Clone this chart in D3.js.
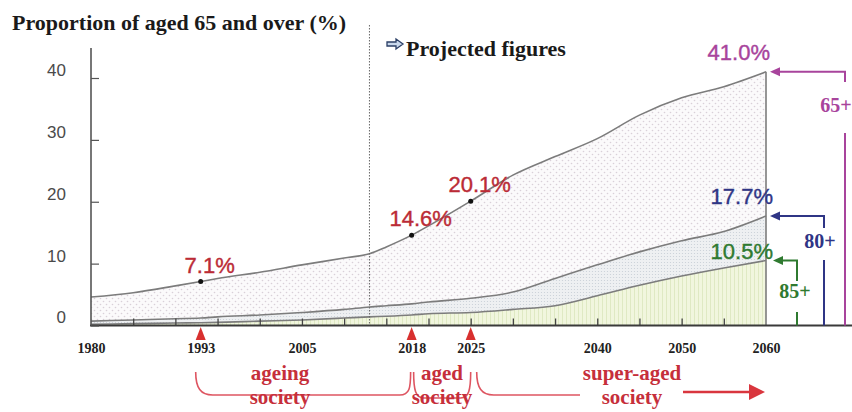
<!DOCTYPE html>
<html><head><meta charset="utf-8">
<script src="https://cdn.jsdelivr.net/npm/d3@7"></script>
<style>body{margin:0;background:#fff}svg{display:block}</style>
</head><body><svg id="chart" width="852" height="412"></svg>
<script>
// ---- data ----
const years  = [1980,1985,1990,1993,1995,2000,2005,2010,2013,2015,2018,2020,2025,2030,2035,2040,2045,2050,2055,2060];
const aged65 = [4.6,5.3,6.4,7.1,7.6,8.6,9.8,10.9,11.6,12.7,14.6,16.1,20.1,24.3,27.3,30.2,34.0,36.8,38.6,41.0];
const aged80 = [0.7,0.9,1.1,1.2,1.4,1.7,2.1,2.6,3.0,3.2,3.5,3.8,4.4,5.4,7.6,9.8,11.9,13.7,15.2,17.7];
const aged85 = [0.2,0.3,0.4,0.45,0.5,0.7,0.9,1.2,1.4,1.5,1.7,1.9,2.1,2.6,3.2,4.8,6.5,8.0,9.3,10.5];
const yTicks = [0,10,20,30,40];
const xLabels = [1980,1993,2005,2018,2025,2040,2050,2060];
const minorTicks = [1985,1990,1995,2000,2005,2010,2015,2020,2025,2030,2035,2040,2045,2050,2055];
const milestoneYears = [1993,2018,2025];
const milestoneValues = [7.1,14.6,20.1];
const projectionStart = 2013;
const groupNames = ["65+","80+","85+"];
const stageLines = [["ageing","society"],["aged","society"],["super-aged","society"]];
const titleText = "Proportion of aged 65 and over (%)";
const projectedText = "Projected figures";

// ---- chart ----
const svg = d3.select("#chart");
const x = d3.scaleLinear().domain([1980,2060]).range([91,766]);
const y = d3.scaleLinear().domain([0,40]).range([325.5,78]);
const serif = "'Liberation Serif','Times New Roman',serif";
const sans = "'Liberation Sans',Arial,sans-serif";

const defs = svg.append("defs");
const p65 = defs.append("pattern").attr("id","p65").attr("patternUnits","userSpaceOnUse").attr("width",6).attr("height",6);
p65.append("rect").attr("width",6).attr("height",6).attr("fill","#fbfafb");
p65.append("circle").attr("cx",1.5).attr("cy",1.5).attr("r",0.8).attr("fill","#d9d0d8");
p65.append("circle").attr("cx",4.5).attr("cy",4.5).attr("r",0.8).attr("fill","#d9d0d8");
const p80 = defs.append("pattern").attr("id","p80").attr("patternUnits","userSpaceOnUse").attr("width",3).attr("height",3);
p80.append("rect").attr("width",3).attr("height",3).attr("fill","#eef0f2");
p80.append("circle").attr("cx",1.5).attr("cy",1.5).attr("r",0.6).attr("fill","#c8cfd6");
const p85 = defs.append("pattern").attr("id","p85").attr("patternUnits","userSpaceOnUse").attr("width",4).attr("height",4);
p85.append("rect").attr("width",4).attr("height",4).attr("fill","#f1f6de");
p85.append("rect").attr("x",2).attr("width",1).attr("height",4).attr("fill","#dfe9c3");

const idx = d3.range(years.length);
const mkArea = arr => d3.area().x(i=>x(years[i])).y0(y(0)).y1(i=>y(arr[i])).curve(d3.curveMonotoneX);
const mkLine = arr => d3.line().x(i=>x(years[i])).y(i=>y(arr[i])).curve(d3.curveMonotoneX);
[[aged65,"url(#p65)"],[aged80,"url(#p80)"],[aged85,"url(#p85)"]].forEach(([arr,f])=>{
  svg.append("path").datum(idx).attr("d",mkArea(arr)).attr("fill",f);
});
[aged65,aged80,aged85].forEach(arr=>{
  svg.append("path").datum(idx).attr("d",mkLine(arr)).attr("fill","none").attr("stroke","#7c7c7c").attr("stroke-width",1.6);
});
const last = years.length-1;
svg.append("line").attr("x1",x(years[last])).attr("x2",x(years[last]))
  .attr("y1",y(aged65[last])).attr("y2",y(0)).attr("stroke","#7c7c7c").attr("stroke-width",1.6);

// projection dotted line
svg.append("line").attr("x1",x(projectionStart)).attr("x2",x(projectionStart)).attr("y1",25).attr("y2",y(0))
  .attr("stroke","#666").attr("stroke-width",1).attr("stroke-dasharray","1.5,1.5");

// minor x ticks
const gMinor = svg.append("g").attr("transform",`translate(0,${y(0)})`)
  .call(d3.axisBottom(x).tickValues(minorTicks).tickSize(-7).tickFormat(""));
gMinor.select(".domain").remove();
gMinor.selectAll("line").attr("stroke","#444").attr("stroke-width",1.3);

// x axis line
svg.append("line").attr("x1",90).attr("x2",852).attr("y1",y(0)).attr("y2",y(0)).attr("stroke","#3a3a3a").attr("stroke-width",2.2);
const gx = svg.append("g").attr("transform",`translate(0,${y(0)})`)
  .call(d3.axisBottom(x).tickValues(xLabels).tickSize(0).tickPadding(18).tickFormat(d3.format("d")));
gx.select(".domain").remove();
gx.selectAll("text").attr("font-family",serif).attr("font-weight","bold").attr("font-size",14).attr("fill","#222");

// y axis
svg.append("line").attr("x1",91).attr("x2",91).attr("y1",48).attr("y2",y(0)).attr("stroke","#555").attr("stroke-width",1.6);
const gy = svg.append("g").attr("transform","translate(91,0)")
  .call(d3.axisLeft(y).tickValues(yTicks).tickSize(-8).tickPadding(25));
gy.select(".domain").remove();
gy.selectAll("line").attr("stroke","#555").attr("stroke-width",1.2);
gy.selectAll("text").attr("font-family",sans).attr("font-size",17).attr("fill","#4a4a4a").attr("transform","translate(0,-8)");

// title
svg.append("text").attr("x",12).attr("y",30).text(titleText)
  .attr("font-family",serif).attr("font-weight","bold").attr("font-size",22).attr("fill","#1a1a1a");

// projected figures
svg.append("path").attr("d","M387,42 L396,42 L396,39 L403,44 L396,49 L396,46 L387,46 Z")
  .attr("fill","#c9d8ec").attr("stroke","#2b3f66").attr("stroke-width",1.3);
svg.append("text").attr("x",406).attr("y",56).text(projectedText)
  .attr("font-family",serif).attr("font-weight","bold").attr("font-size",22).attr("fill","#1a1a1a");

// milestones
milestoneYears.forEach((yr,i)=>{
  const cx = x(yr), cy = y(milestoneValues[i]);
  svg.append("circle").attr("cx",cx).attr("cy",cy).attr("r",2.5).attr("fill","#111");
  svg.append("text").attr("x",cx+9).attr("y",cy-9).attr("text-anchor","middle")
    .text(milestoneValues[i].toFixed(1)+"%")
    .attr("font-family",sans).attr("font-size",22).attr("fill","#bb2b36")
    .attr("stroke","#bb2b36").attr("stroke-width",0.4);
  svg.append("path").attr("d",`M${cx},327 L${cx-5},340 L${cx+5},340 Z`).attr("fill","#d8302f");
});

// right-side brackets
const series = [aged65,aged80,aged85];
const colors = ["#a8449c","#2f3585","#2f7a30"];
const layout = [
  {bx:845, tip:770, drop:82,  lx:836, ly:112, low:133, vx:770, vy:-12},
  {bx:824, tip:770, drop:228, lx:820, ly:248, low:260, vx:773, vy:-12},
  {bx:797, tip:773, drop:281, lx:795, ly:298, low:312, vx:773, vy:-1.5}
];
series.forEach((arr,i)=>{
  const L = layout[i], c = colors[i], ay = y(arr[last]);
  svg.append("path").attr("d",`M${L.tip+8},${ay} L${L.bx},${ay} L${L.bx},${L.drop}`)
    .attr("fill","none").attr("stroke",c).attr("stroke-width",2);
  svg.append("path").attr("d",`M${L.tip},${ay} L${L.tip+10},${ay-4.5} L${L.tip+10},${ay+4.5} Z`).attr("fill",c);
  svg.append("line").attr("x1",L.bx).attr("x2",L.bx).attr("y1",L.low).attr("y2",y(0)).attr("stroke",c).attr("stroke-width",2);
  svg.append("text").attr("x",L.lx).attr("y",L.ly).attr("text-anchor","middle").text(groupNames[i])
    .attr("font-family",serif).attr("font-weight","bold").attr("font-size",20).attr("fill",c);
  svg.append("text").attr("x",L.vx).attr("y",ay+L.vy).attr("text-anchor","end").text(arr[last].toFixed(1)+"%")
    .attr("font-family",sans).attr("font-size",22).attr("fill",c).attr("stroke",c).attr("stroke-width",0.4);
});

// stage braces
const red = "#de5561", redText = "#c62f3b";
const x93 = x(1993), x18 = x(2018), x25 = x(2025);
svg.append("path").attr("d",`M${x93-5},372 C${x93-5},388 ${x93},395 ${x93+12},395 L${x18-12},395 C${x18-2},395 ${x18-1},388 ${x18-1},372`)
  .attr("fill","none").attr("stroke",red).attr("stroke-width",1.6);
svg.append("path").attr("d",`M${x18+2},372 C${x18+2},390 ${x18+4},398 ${x18+12},398 L${x25-10},398 C${x25-2},398 ${x25},390 ${x25},372`)
  .attr("fill","none").attr("stroke",red).attr("stroke-width",1.6);
svg.append("path").attr("d",`M${x25+6},372 C${x25+6},388 ${x25+11},395 ${x25+23},395 L580,395`)
  .attr("fill","none").attr("stroke",red).attr("stroke-width",1.6);
svg.append("line").attr("x1",683).attr("x2",752).attr("y1",392).attr("y2",392).attr("stroke","#d9363e").attr("stroke-width",2.5);
svg.append("path").attr("d","M765,392 L749,384 L749,400 Z").attr("fill","#d9363e");

const stageCenters = [280, 442, 632];
stageLines.forEach((lines,i)=>{
  const t = svg.append("text").attr("text-anchor","middle")
    .attr("font-family",serif).attr("font-weight","bold").attr("font-size",21).attr("fill",redText);
  lines.forEach((s,j)=>{
    t.append("tspan").attr("x",stageCenters[i]).attr("y",380+j*24).text(s);
  });
});
</script>
</body></html>
